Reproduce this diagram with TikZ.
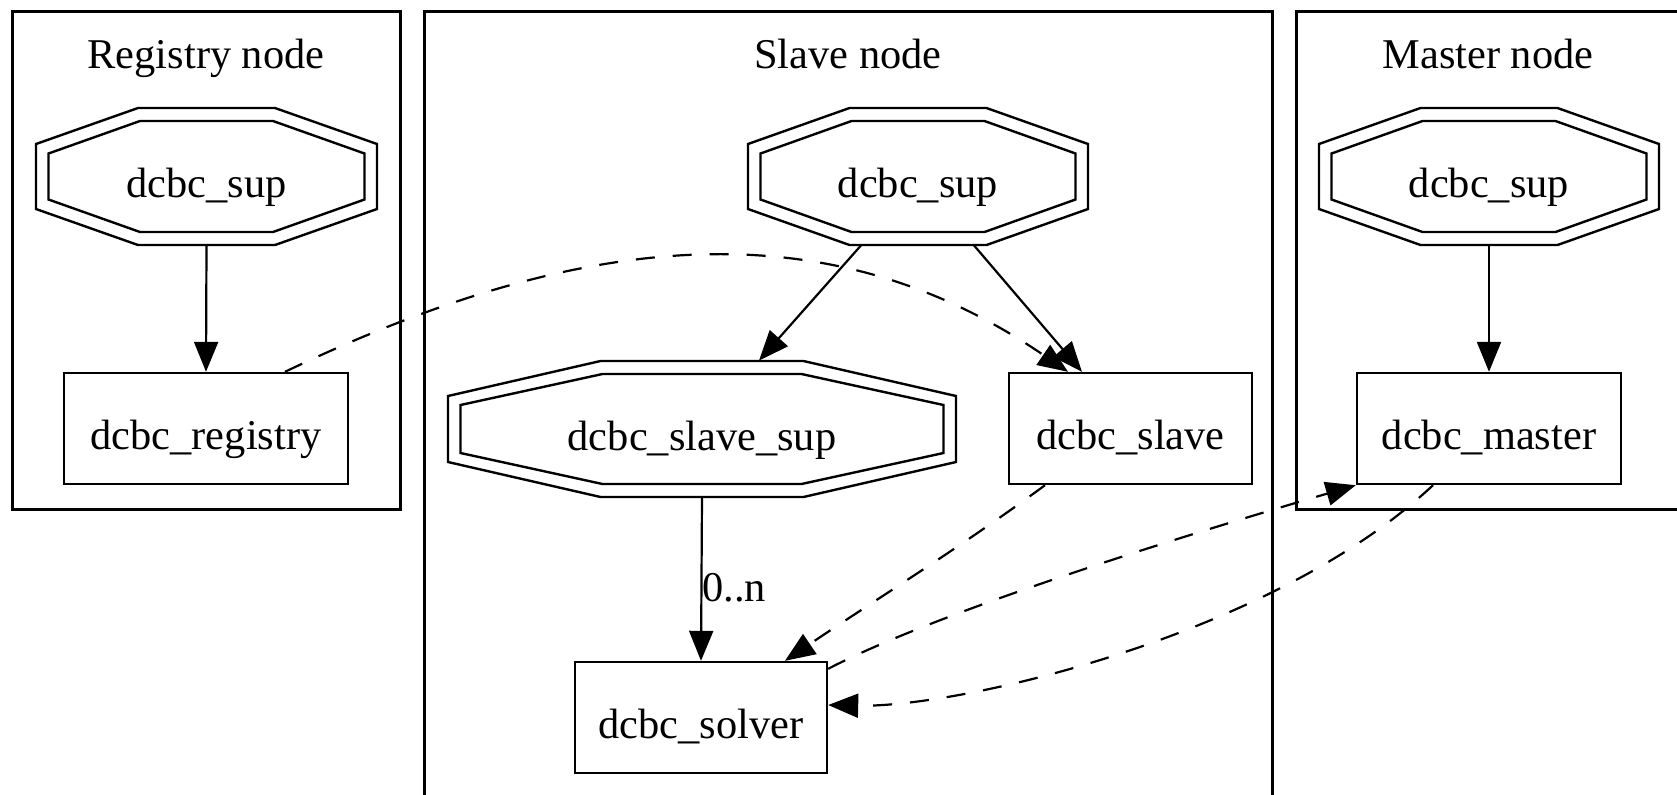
\documentclass[tikz,border=0pt]{standalone}
\usepackage{fontspec}
\setmainfont{Liberation Serif}
\usetikzlibrary{arrows.meta,calc}
\newcommand\octpath[5]{%
  \begin{scope}[shift={(#1.center)}]
    \draw[octline] (-#2,-#5) -- (-#4,-#3) -- (#4,-#3) -- (#2,-#5) -- (#2,#5) -- (#4,#3) -- (-#4,#3) -- (-#2,#5) -- cycle;
  \end{scope}}
\begin{document}
\begin{tikzpicture}[x=0.5pt,y=-0.5pt,
  every node/.style={font=\fontsize{21.2pt}{25pt}\selectfont},
  cluster/.style={draw, line width=1.5pt},
  box/.style={draw, line width=1.2pt, inner sep=0pt, minimum height=55.5pt, text height=21.6pt, text depth=0.4pt},
  octnode/.style={inner sep=0pt, minimum height=68.5pt, text height=21.6pt, text depth=0.4pt},
  octline/.style={line width=1.2pt},
  edge/.style={line width=1.1pt, -{Triangle[length=15pt,width=12pt]}},
  dedge/.style={edge, dash pattern=on 9.5pt off 9pt},
  title/.style={inner sep=0pt, anchor=base}
]
\fill[white] (0,0) rectangle (1677,794);
\useasboundingbox (0,0) rectangle (1677,794);
\clip (0,0) rectangle (1677,794);

% clusters
\draw[cluster] (12,11) rectangle (400,509);
\draw[cluster] (424,11) rectangle (1272,805);
\draw[cluster] (1296,11) rectangle (1690,509);
\node[title] (treg) at (206,68) {Registry node};
\node[title] (tslv) at (848,68) {Slave node};
\node[title] (tmst) at (1488,68) {Master node};

% octagon nodes
\node[octnode, minimum width=170.5pt] (rsup) at (206.5,176.5) {dcbc\_sup};
\octpath{rsup}{170.5}{68.5}{68.5}{32.5}
\octpath{rsup}{158}{55.5}{66.5}{23}
\node[octnode, minimum width=170pt] (ssup) at (918,176.5) {dcbc\_sup};
\octpath{ssup}{170}{68.5}{68.5}{32.5}
\octpath{ssup}{157.5}{55.5}{66.5}{23}
\node[octnode, minimum width=170pt] (msup) at (1489,176.5) {dcbc\_sup};
\octpath{msup}{170}{68.5}{68.5}{32.5}
\octpath{msup}{157.5}{55.5}{66.5}{23}
\node[octnode, minimum width=254pt, minimum height=68pt] (slsup) at (702,429) {dcbc\_slave\_sup};
\octpath{slsup}{254}{68}{101.5}{33}
\octpath{slsup}{241.5}{55}{99.5}{24}

% box nodes
\node[box, minimum width=142pt] (reg) at (206,428.5) {dcbc\_registry};
\node[box, minimum width=121.5pt] (slave) at (1130.5,428.5) {dcbc\_slave};
\node[box, minimum width=132pt] (master) at (1489,428.5) {dcbc\_master};
\node[box, minimum width=126pt] (solver) at (701,717.5) {dcbc\_solver};

% solid edges
\draw[edge] (rsup.south) -- (reg.north);
\draw[edge] ([xshift=-28.5pt]ssup.south) -- ([xshift=28.5pt]slsup.north);
\draw[edge] ([xshift=28pt]ssup.south) -- ([xshift=-24.25pt]slave.north);
\draw[edge] (msup.south) -- (master.north);
\draw[edge] (slsup.south) -- node[pos=0.55, anchor=west, inner sep=0pt] (lbl) {0..n} (solver.north);

% dashed edges
\draw[dedge] ([xshift=39.5pt]reg.north) .. controls (578,232) and (824,205) .. ([xshift=-31.25pt]slave.north);
\draw[dedge] ([xshift=-42.75pt]slave.south) .. controls (958,549) and (872,602) .. ([xshift=42pt]solver.north);
\draw[dedge] ([yshift=-4pt]solver.north east) .. controls (949,606) and (1227,523) .. (master.south west);
\draw[dedge] ([xshift=-28pt]master.south) .. controls (1273,635) and (960,708) .. ([yshift=6.25pt]solver.east);
\end{tikzpicture}
\end{document}
